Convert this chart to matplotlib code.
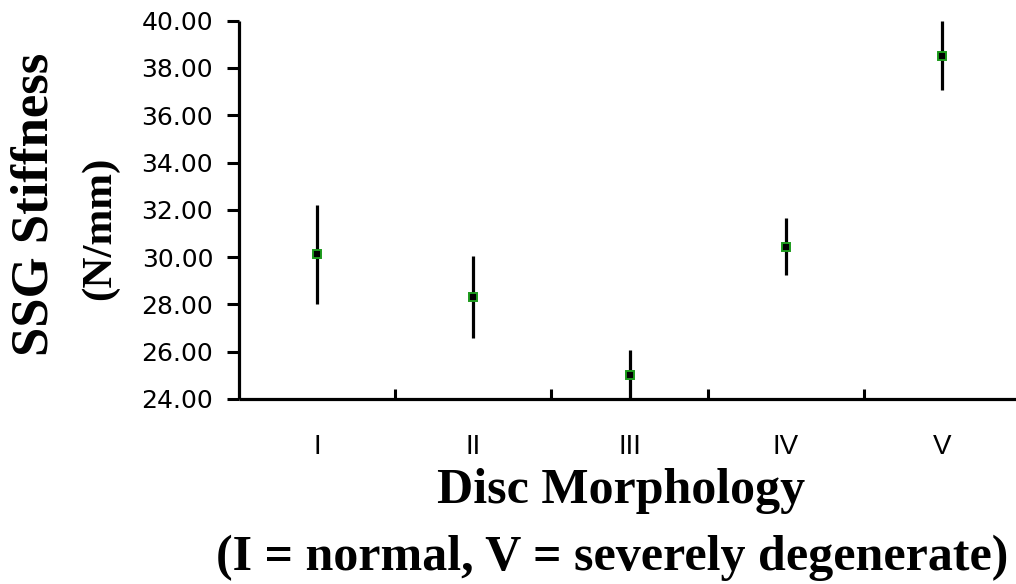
import matplotlib
matplotlib.use("Agg")
import matplotlib.pyplot as plt
import numpy as np

categories = ["I", "II", "III", "IV", "V"]
means = [30.12, 28.31, 25.03, 30.44, 38.52]
errors = [2.10, 1.73, 1.05, 1.20, 1.45]
yticks = [24, 26, 28, 30, 32, 34, 36, 38, 40]

W, H = 1016, 584
fig = plt.figure(figsize=(W / 100, H / 100), dpi=100)
left, bottom, top, right = 239, 399, 20.7, 1020
ax = fig.add_axes([left / W, (H - bottom) / H, (right - left) / W, (bottom - top) / H])

x = np.arange(1, len(categories) + 1)
ax.errorbar(x, means, yerr=errors, fmt='none', ecolor='black', elinewidth=2.3,
            capsize=0, zorder=2, clip_on=True)
ax.plot(x, means, linestyle='none', marker='s', markersize=5.2,
        markerfacecolor='black', markeredgecolor='#1c9a1c', markeredgewidth=1.4,
        zorder=3, clip_on=False)

ax.set_xlim(0.5, 5.5)
ax.set_ylim(24, 40)

for s in ['top', 'right']:
    ax.spines[s].set_visible(False)
for s in ['left', 'bottom']:
    ax.spines[s].set_linewidth(2.3)
    ax.spines[s].set_capstyle('butt')

ax.set_yticks(yticks)
ax.set_yticklabels([f"{v:.2f}" for v in yticks], fontfamily='DejaVu Sans', fontsize=18)
ax.tick_params(axis='y', direction='out', length=8.6, width=2.2, pad=10)

ax.set_xticks(x)
ax.set_xticklabels(categories, fontfamily='Liberation Sans', fontsize=20)
ax.tick_params(axis='x', which='major', length=0, pad=25)
ax.set_xticks(np.arange(1.5, 5.0, 1.0), minor=True)
ax.tick_params(axis='x', which='minor', direction='in', length=7.2, width=2.2)

fig.text(((left + right) / 2 - 8) / W, (H - 503) / H, "Disc Morphology",
         fontfamily='Liberation Serif', fontweight='bold', fontsize=36,
         ha='center', va='baseline')
fig.text(612 / W, (H - 570) / H, "(I = normal, V = severely degenerate)",
         fontfamily='Liberation Serif', fontweight='bold', fontsize=36,
         ha='center', va='baseline')

fig.text(48 / W, (H - 204) / H, "SSG Stiffness", rotation=90,
         fontfamily='Liberation Serif', fontweight='bold', fontsize=38,
         ha='center', va='baseline', rotation_mode='anchor')
fig.text(110 / W, (H - 228) / H, "(N/mm)", rotation=90,
         fontfamily='Liberation Serif', fontweight='bold', fontsize=31,
         ha='center', va='baseline', rotation_mode='anchor')

fig.savefig("out.png", dpi=100, facecolor='white')
